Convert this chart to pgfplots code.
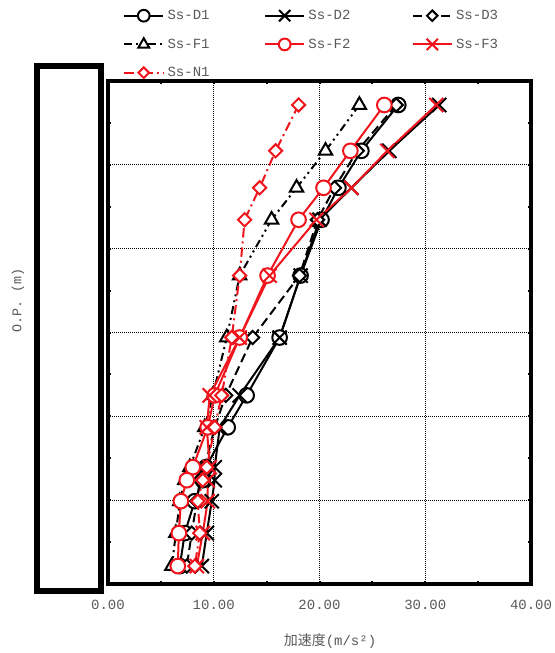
\documentclass[border=0pt]{standalone}
\usepackage{pgfplots}
\pgfplotsset{compat=1.18}
\usepackage{fontspec}
\setmainfont{Liberation Mono}
\newfontfamily\cjk{Noto Sans CJK JP}
\definecolor{myred}{RGB}{240,20,28}
\definecolor{txt}{RGB}{89,89,89}
\newcommand{\lgent}[1]{\makebox[72.5pt][l]{#1}}
\begin{document}
\begin{tikzpicture}
\useasboundingbox (0,0) rectangle (416.25pt,489.75pt);
% left masking box
\draw[line width=4.5pt] (27.75pt,46.5pt) rectangle (75.75pt,440.25pt);
\node[rotate=90, text=txt, font=\fontsize{10pt}{12pt}\selectfont] at (13.5pt,264.75pt) {O.P. (m)};
\node[text=txt, font=\fontsize{10.5pt}{12pt}\selectfont] at (247.5pt,9pt) {{\cjk 加速度}(m/s²)};
\begin{axis}[
  at={(81pt,51.75pt)}, anchor=south west,
  scale only axis, width=317.25pt, height=377.25pt,
  xmin=0, xmax=40, ymin=0, ymax=6,
  xtick={0,10,20,30,40}, minor x tick num=1,
  ytick={0,1,2,3,4,5,6}, minor y tick num=1,
  yticklabels={},
  xmajorgrids, ymajorgrids,
  grid style={black, line width=0.7pt, dash pattern=on 0.7pt off 0.8pt},
  axis line style={line width=2.5pt},
  tick align=inside, major tick length=2.5pt, minor tick length=2.5pt,
  tick style={black, line width=1.5pt},
  xticklabel style={text=txt, font=\fontsize{10.5pt}{12pt}\selectfont, yshift=-8.5pt},
  /pgf/number format/assume math mode=true,
  /pgf/number format/.cd, fixed, fixed zerofill, precision=2, /pgfplots/.cd,
  legend columns=3,
  legend style={at={(0.0355,1.142)}, anchor=north west, draw=none, fill=none,
    inner sep=0pt, row sep=12.5pt, font=\fontsize{10.5pt}{12pt}\selectfont, text=txt,
    nodes={inner sep=0pt},
    /tikz/every odd column/.append style={column sep=2.5pt},
    /tikz/column 4/.append style={column sep=5pt}},
  legend cell align=left,
  legend image code/.code={\draw[mark repeat=2,mark phase=2] plot coordinates {(0pt,0pt) (14.6pt,0pt) (29.2pt,0pt)};},
  legend image post style={every mark/.append style={scale=0.8}},
  clip=false,
]
% Ss-D1
\addplot[black, line width=1.5pt, mark=*, mark size=5.5pt, mark options={solid, fill=white}] coordinates {
(27.45,5.714) (23.96,5.167) (21.79,4.726) (20.19,4.345) (18.21,3.679) (16.23,2.940) (13.11,2.250) (11.32,1.869) (9.25,1.393) (8.96,1.238) (8.20,0.988) (7.26,0.607) (6.79,0.214)};
\addlegendentry{\lgent{Ss-D1}}
% Ss-D2
\addplot[black, line width=1.5pt, mark=x, mark size=7.5pt, mark options={solid}] coordinates {
(31.32,5.714) (26.60,5.167) (23.02,4.726) (20.00,4.345) (18.21,3.679) (16.23,2.940) (12.45,2.250) (10.57,1.869) (10.09,1.393) (10.09,1.238) (9.81,0.988) (9.34,0.607) (8.87,0.214)};
\addlegendentry{\lgent{Ss-D2}}
% Ss-D3
\addplot[black, line width=1.5pt, dash pattern=on 7pt off 3.5pt, mark=square*, mark size=3.5pt, mark options={solid, rotate=45, fill=white}] coordinates {
(27.26,5.714) (23.58,5.167) (21.42,4.726) (19.81,4.345) (18.11,3.679) (13.68,2.940) (11.13,2.250) (10.09,1.869) (9.15,1.393) (8.68,1.238) (8.40,0.988) (7.92,0.607) (7.45,0.214)};
\addlegendentry{\lgent{Ss-D3}}
% Ss-F1
\addplot[black, line width=1.5pt, dash pattern=on 6pt off 3pt on 1.5pt off 3pt on 1.5pt off 3pt, mark=triangle*, mark size=5.8pt, mark options={solid, fill=white}] coordinates {
(23.77,5.714) (20.57,5.167) (17.83,4.726) (15.47,4.345) (12.45,3.679) (11.23,2.940) (9.91,2.250) (9.15,1.869) (7.74,1.393) (7.26,1.238) (6.79,0.988) (6.42,0.607) (6.04,0.214)};
\addlegendentry{\lgent{Ss-F1}}
% Ss-F2
\addplot[myred, line width=1.5pt, mark=*, mark size=5.5pt, mark options={solid, fill=white}] coordinates {
(26.13,5.714) (22.92,5.167) (20.38,4.726) (18.02,4.345) (15.09,3.679) (12.45,2.940) (10.09,2.250) (9.43,1.869) (8.02,1.393) (7.45,1.238) (6.89,0.988) (6.70,0.607) (6.60,0.214)};
\addlegendentry{\lgent{Ss-F2}}
% Ss-F3
\addplot[myred, line width=1.5pt, mark=x, mark size=7.5pt, mark options={solid}] coordinates {
(31.04,5.714) (26.42,5.167) (23.02,4.726) (19.72,4.345) (15.28,3.679) (12.45,2.940) (9.62,2.250) (9.34,1.869) (9.62,1.393) (9.43,1.238) (9.43,0.988) (8.96,0.607) (8.40,0.214)};
\addlegendentry{\lgent{Ss-F3}}
% Ss-N1
\addplot[myred, line width=1.5pt, dash pattern=on 7pt off 3pt on 1.5pt off 3pt, mark=square*, mark size=3.5pt, mark options={solid, rotate=45, fill=white}] coordinates {
(18.02,5.714) (15.85,5.167) (14.34,4.726) (12.92,4.345) (12.45,3.679) (11.70,2.940) (10.75,2.250) (10.09,1.869) (9.34,1.393) (8.96,1.238) (8.49,0.988) (8.68,0.607) (8.21,0.214)};
\addlegendentry{\lgent{Ss-N1}}
\end{axis}
\end{tikzpicture}
\end{document}
